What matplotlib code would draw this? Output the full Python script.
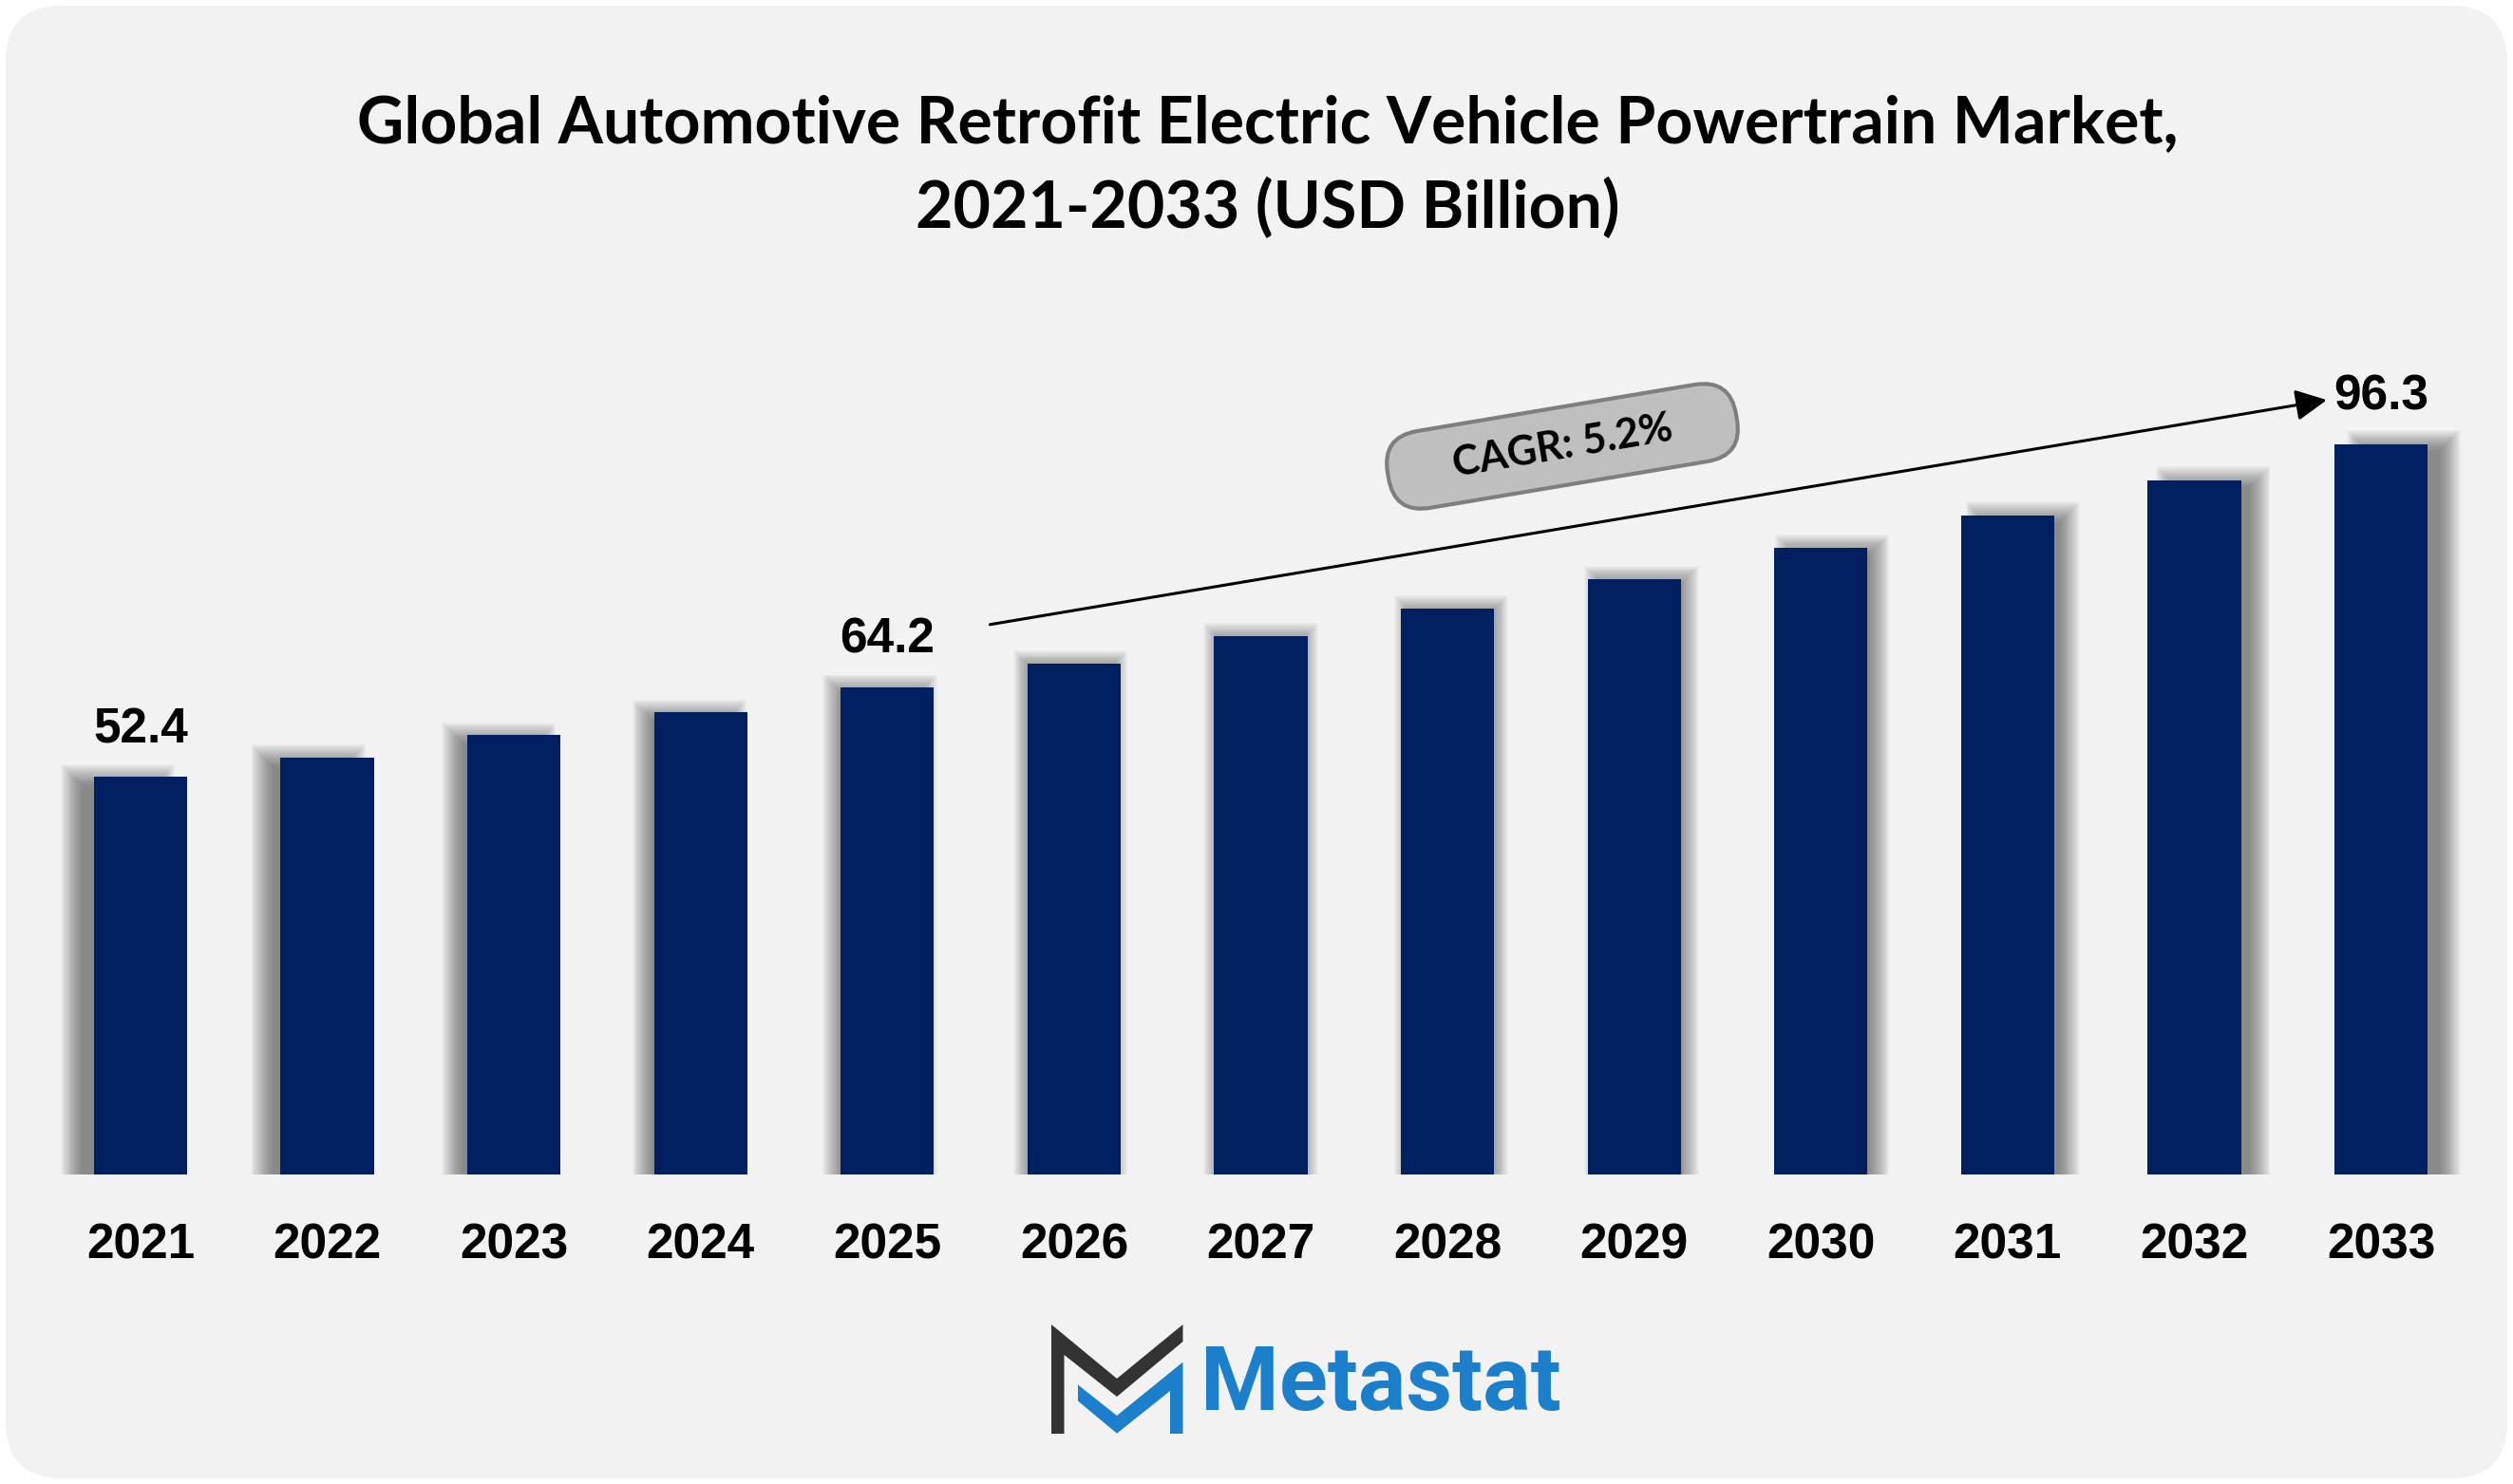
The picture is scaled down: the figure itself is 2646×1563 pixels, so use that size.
import numpy as np
import matplotlib.pyplot as plt
from matplotlib.patches import FancyBboxPatch, Polygon
from matplotlib.transforms import Affine2D

# data
years = ['2021', '2022', '2023', '2024', '2025', '2026', '2027',
         '2028', '2029', '2030', '2031', '2032', '2033']
market = [52.4, 55.0, 57.9, 60.9, 64.2, 67.4, 71.0, 74.6, 78.5, 82.6, 86.9, 91.5, 96.3]
shown_labels = ['52.4', '', '', '', '64.2', '', '', '', '', '', '', '', '96.3']
cagr_text = 'CAGR: 5.2%'
title_lines = ['Global Automotive Retrofit Electric Vehicle Powertrain Market,',
               '2021-2033 (USD Billion)']
brand = 'Metastat'

W, H = 2646, 1563
navy = '#002060'

fig = plt.figure(figsize=(W / 100, H / 100), dpi=100)
fig.patch.set_facecolor('white')

# background axes in pixel units (y down)
bg = fig.add_axes([0, 0, 1, 1], zorder=0)
bg.set_xlim(0, W)
bg.set_ylim(H, 0)
bg.axis('off')
bg.add_patch(FancyBboxPatch((6, 6), W - 12, H - 12,
                            boxstyle='round,pad=0,rounding_size=60',
                            fc='#f2f2f2', ec='none'))

# title
for line, yb in zip(title_lines, [150, 240]):
    t = bg.text(1335, yb, line, ha='center', va='baseline', fontsize=44,
                fontweight='bold', family='Lato', color='black')
    if line == title_lines[0]:
        fig.canvas.draw()
        wpx = t.get_window_extent().width
        title_size = 44 * 1920 / wpx
    t.set_fontsize(title_size)

# chart
ax = fig.add_axes([0.0188, 0.20857, 0.9658, 0.6134], zorder=1)
ax.set_facecolor('none')
x = np.arange(len(years))
vals = np.array(market)

# soft shadow behind the bars, pushed outward from the middle
xc = x.mean()
sx = x + 0.0203 * (x - xc)
n_layers = 24
a = 1 - 0.45 ** (1 / n_layers)
for e in np.linspace(-0.056, 0.056, n_layers):
    ax.bar(sx, vals * 1.005 + e * 24.6, width=0.5 + 2 * e,
           color='#404040', alpha=a, linewidth=0, zorder=1)

ax.bar(x, vals, width=0.5, color=navy, linewidth=0, zorder=3)
ax.axhline(-0.3, color='#d9d9d9', lw=3.6, zorder=2)

for xi, v, lab in zip(x, vals, shown_labels):
    if lab:
        ax.annotate(lab, (xi, v), xytext=(0, 26), textcoords='offset points',
                    ha='center', va='baseline', fontsize=37, fontweight='bold',
                    family='Liberation Sans', color='black', zorder=4)

ax.annotate('', xy=(11.71, 102.1), xytext=(4.55, 72.5),
            arrowprops=dict(arrowstyle='-|>', color='black', lw=2.2,
                            mutation_scale=50, shrinkA=0, shrinkB=0), zorder=4)

ax.set_xlim(-0.5, 12.5)
ax.set_ylim(0, 120)
ax.set_xticks(x, years)
for lab in ax.get_xticklabels():
    lab.set_fontsize(37)
    lab.set_fontweight('bold')
    lab.set_family('Liberation Sans')
ax.tick_params(axis='x', length=0, pad=36)
ax.set_yticks([])
for s in ax.spines.values():
    s.set_visible(False)

# CAGR pill
cx, cy, bw, bh = 1645, 470, 372, 82
rot = Affine2D().rotate_deg_around(cx, cy, -9.5) + bg.transData
bg.add_patch(FancyBboxPatch((cx - bw / 2, cy - bh / 2), bw, bh,
                            boxstyle='round,pad=0,rounding_size=38',
                            fc='#bfbfbf', ec='#7f7f7f', lw=3, transform=rot))
bg.text(cx, cy, cagr_text, ha='center', va='center', rotation=9.5,
        rotation_mode='anchor', fontsize=31, fontweight='bold', family='Lato',
        color='black')

# logo
dark = [(1107, 1395), (1176, 1452), (1245.5, 1395), (1245.5, 1413), (1176, 1471),
        (1120.5, 1427), (1120.5, 1510), (1107, 1510)]
blue = [(1135, 1458.5), (1176, 1491), (1245.5, 1434.6), (1245.5, 1510),
        (1232, 1510), (1232, 1465), (1176, 1509.7), (1135, 1475.6)]
bg.add_patch(Polygon(dark, closed=True, fc='#333333', ec='none'))
bg.add_patch(Polygon(blue, closed=True, fc='#1b7fcc', ec='none'))
bg.text(1264, 1485, brand, ha='left', va='baseline', fontsize=68,
        fontweight='bold', family='Roboto', color='#1b7fcc')

fig.savefig('out.png', dpi=100, facecolor='white')
